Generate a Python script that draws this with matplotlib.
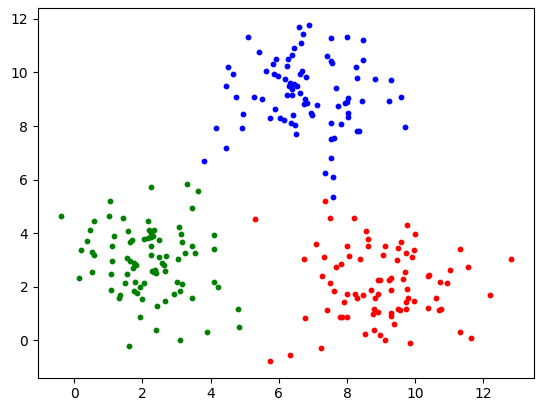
import matplotlib
matplotlib.use("Agg")
import matplotlib.pyplot as plt

# cluster points
azul_x = [6.58, 6.89, 5.11, 6.70, 6.64, 6.43, 5.43, 6.40, 5.93, 6.27,
          5.84, 6.23, 4.52, 5.62, 6.69, 6.63, 4.67, 5.87, 5.97, 6.81,
          6.17, 6.33, 6.43, 6.53, 6.31, 6.38, 4.44, 6.61, 6.23, 6.40,
          4.73, 5.26, 5.51, 6.78, 6.82, 6.74, 7.13, 5.90, 6.94, 6.97,
          4.96, 6.41, 5.73, 6.02, 6.14, 6.36, 6.46, 4.17, 4.91, 6.49,
          7.52, 7.99, 8.48, 7.40, 7.52, 7.56, 8.48, 8.25, 8.28, 8.81,
          9.30, 7.69, 8.04, 8.00, 7.93, 8.43, 9.22, 9.57, 7.72, 8.04,
          8.04, 7.52, 7.81, 9.69, 8.28, 8.36, 4.44, 3.82, 7.52, 7.62,
          7.52, 7.34, 7.60, 7.60]
azul_y = [11.71, 11.78, 11.33, 11.43, 11.11, 10.92, 10.77, 10.66, 10.49, 10.49,
          10.31, 10.25, 10.21, 10.06, 10.06, 9.94, 9.94, 9.94, 9.86, 9.84,
          9.74, 9.62, 9.56, 9.49, 9.49, 9.40, 9.49, 9.24, 9.14, 9.14,
          9.09, 9.09, 8.99, 8.99, 8.87, 8.82, 8.77, 8.65, 8.47, 8.40,
          8.43, 8.40, 8.31, 8.31, 8.22, 8.12, 8.02, 7.94, 7.94, 7.71,
          11.29, 11.33, 11.22, 10.62, 10.44, 10.36, 10.47, 10.21, 9.80, 9.76,
          9.73, 9.43, 9.06, 8.91, 8.87, 8.94, 8.94, 9.09, 8.76, 8.47,
          8.35, 8.10, 8.06, 7.97, 7.82, 7.82, 7.19, 6.71, 7.50, 7.56,
          6.82, 6.26, 6.11, 5.36]

verde_x = [2.24, 1.04, -0.40, 1.01, 1.42, 0.57, 2.15, 0.45, 1.59, 2.18,
           2.35, 1.18, 2.30, 2.05, 2.15, 2.26, 2.48, 0.39, 1.69, 1.64,
           1.12, 2.24, 0.21, 0.53, 0.57, 2.24, 1.12, 1.55, 1.64, 1.74,
           1.82, 2.50, 3.32, 3.62, 3.44, 3.06, 3.12, 2.26, 3.15, 3.44,
           4.11, 4.09, 3.26, 3.53, 2.68, 3.03, 2.58, 2.62, 1.72, 2.65,
           2.28, 2.38, 2.40, 2.35, 0.13, 0.51, 1.09, 1.56, 1.50, 1.77,
           2.06, 3.00, 3.15, 4.09, 4.23, 1.09, 1.94, 1.74, 1.84, 3.09,
           2.94, 1.33, 1.30, 2.00, 2.65, 3.44, 2.44, 4.79, 1.94, 2.40,
           3.90, 4.84, 3.11, 1.61]
verde_y = [5.74, 5.21, 4.62, 4.62, 4.58, 4.47, 4.47, 4.13, 4.06, 4.13,
           4.13, 3.91, 3.91, 3.78, 3.82, 3.87, 3.76, 3.72, 3.74, 3.66,
           3.50, 3.53, 3.38, 3.31, 3.20, 3.18, 2.97, 3.06, 2.97, 2.87,
           2.82, 3.10, 5.85, 5.56, 4.95, 4.22, 3.98, 4.02, 3.65, 3.53,
           3.94, 3.42, 3.27, 3.24, 3.16, 3.05, 2.90, 2.81, 2.71, 2.59,
           2.59, 2.62, 2.50, 2.54, 2.34, 2.53, 2.46, 2.49, 2.15, 2.19,
           2.15, 2.19, 2.09, 2.19, 2.00, 1.89, 1.97, 1.82, 1.78, 1.85,
           1.74, 1.67, 1.58, 1.52, 1.48, 1.56, 1.26, 1.18, 0.88, 0.38,
           0.30, 0.51, 0.00, -0.20]

rojo_x = [7.34, 5.31, 7.49, 8.19, 7.08, 8.01, 6.75, 7.31, 8.07, 8.39,
          7.81, 7.69, 7.28, 7.49, 8.57, 8.60, 8.60, 9.77, 9.98, 9.57,
          9.10, 9.48, 9.95, 9.72, 9.89, 9.04, 9.45, 11.32, 9.69, 9.63,
          10.40, 10.36, 11.01, 9.28, 9.22, 8.98, 8.92, 10.73, 10.92, 7.63,
          8.01, 8.22, 8.29, 8.48, 8.69, 8.81, 8.92, 7.90, 7.40, 6.78,
          7.78, 7.86, 7.99, 8.78, 8.75, 8.92, 8.54, 8.80, 8.98, 7.24,
          6.32, 5.73, 9.28, 9.77, 9.80, 9.72, 9.95, 10.62, 9.48, 9.55,
          9.72, 9.28, 9.28, 10.36, 10.75, 10.71, 9.39, 9.10, 9.84, 11.32,
          11.64, 12.82, 11.56, 12.18]
rojo_y = [5.19, 4.51, 4.55, 4.55, 3.61, 3.53, 3.05, 3.12, 3.16, 3.05,
          2.86, 2.75, 2.39, 2.13, 4.09, 3.79, 3.50, 4.32, 3.98, 3.68,
          3.53, 3.46, 3.35, 3.24, 3.12, 3.20, 3.01, 3.42, 2.53, 2.30,
          2.45, 2.38, 2.64, 2.34, 2.26, 2.26, 2.23, 2.19, 2.15, 1.85,
          1.71, 1.71, 1.59, 1.67, 1.89, 1.59, 1.71, 1.41, 1.11, 0.81,
          0.85, 0.85, 0.85, 1.18, 0.96, 1.07, 0.22, 0.38, 0.20, -0.31,
          -0.54, -0.77, 1.89, 1.93, 1.56, 1.41, 1.48, 1.59, 1.18, 1.11,
          1.18, 1.03, 0.92, 1.22, 1.18, 1.11, 0.62, 0.00, -0.12, 0.30,
          0.07, 3.05, 2.75, 1.67]

fig = plt.figure(figsize=(5.43, 4.13), dpi=100)
ax = fig.add_axes([38 / 543, 35.4 / 413, 496 / 543, 369.6 / 413])

ax.scatter(azul_x, azul_y, s=10, c='blue')
ax.scatter(verde_x, verde_y, s=10, c='green')
ax.scatter(rojo_x, rojo_y, s=10, c='red')

fig.savefig('out.png', dpi=100)
